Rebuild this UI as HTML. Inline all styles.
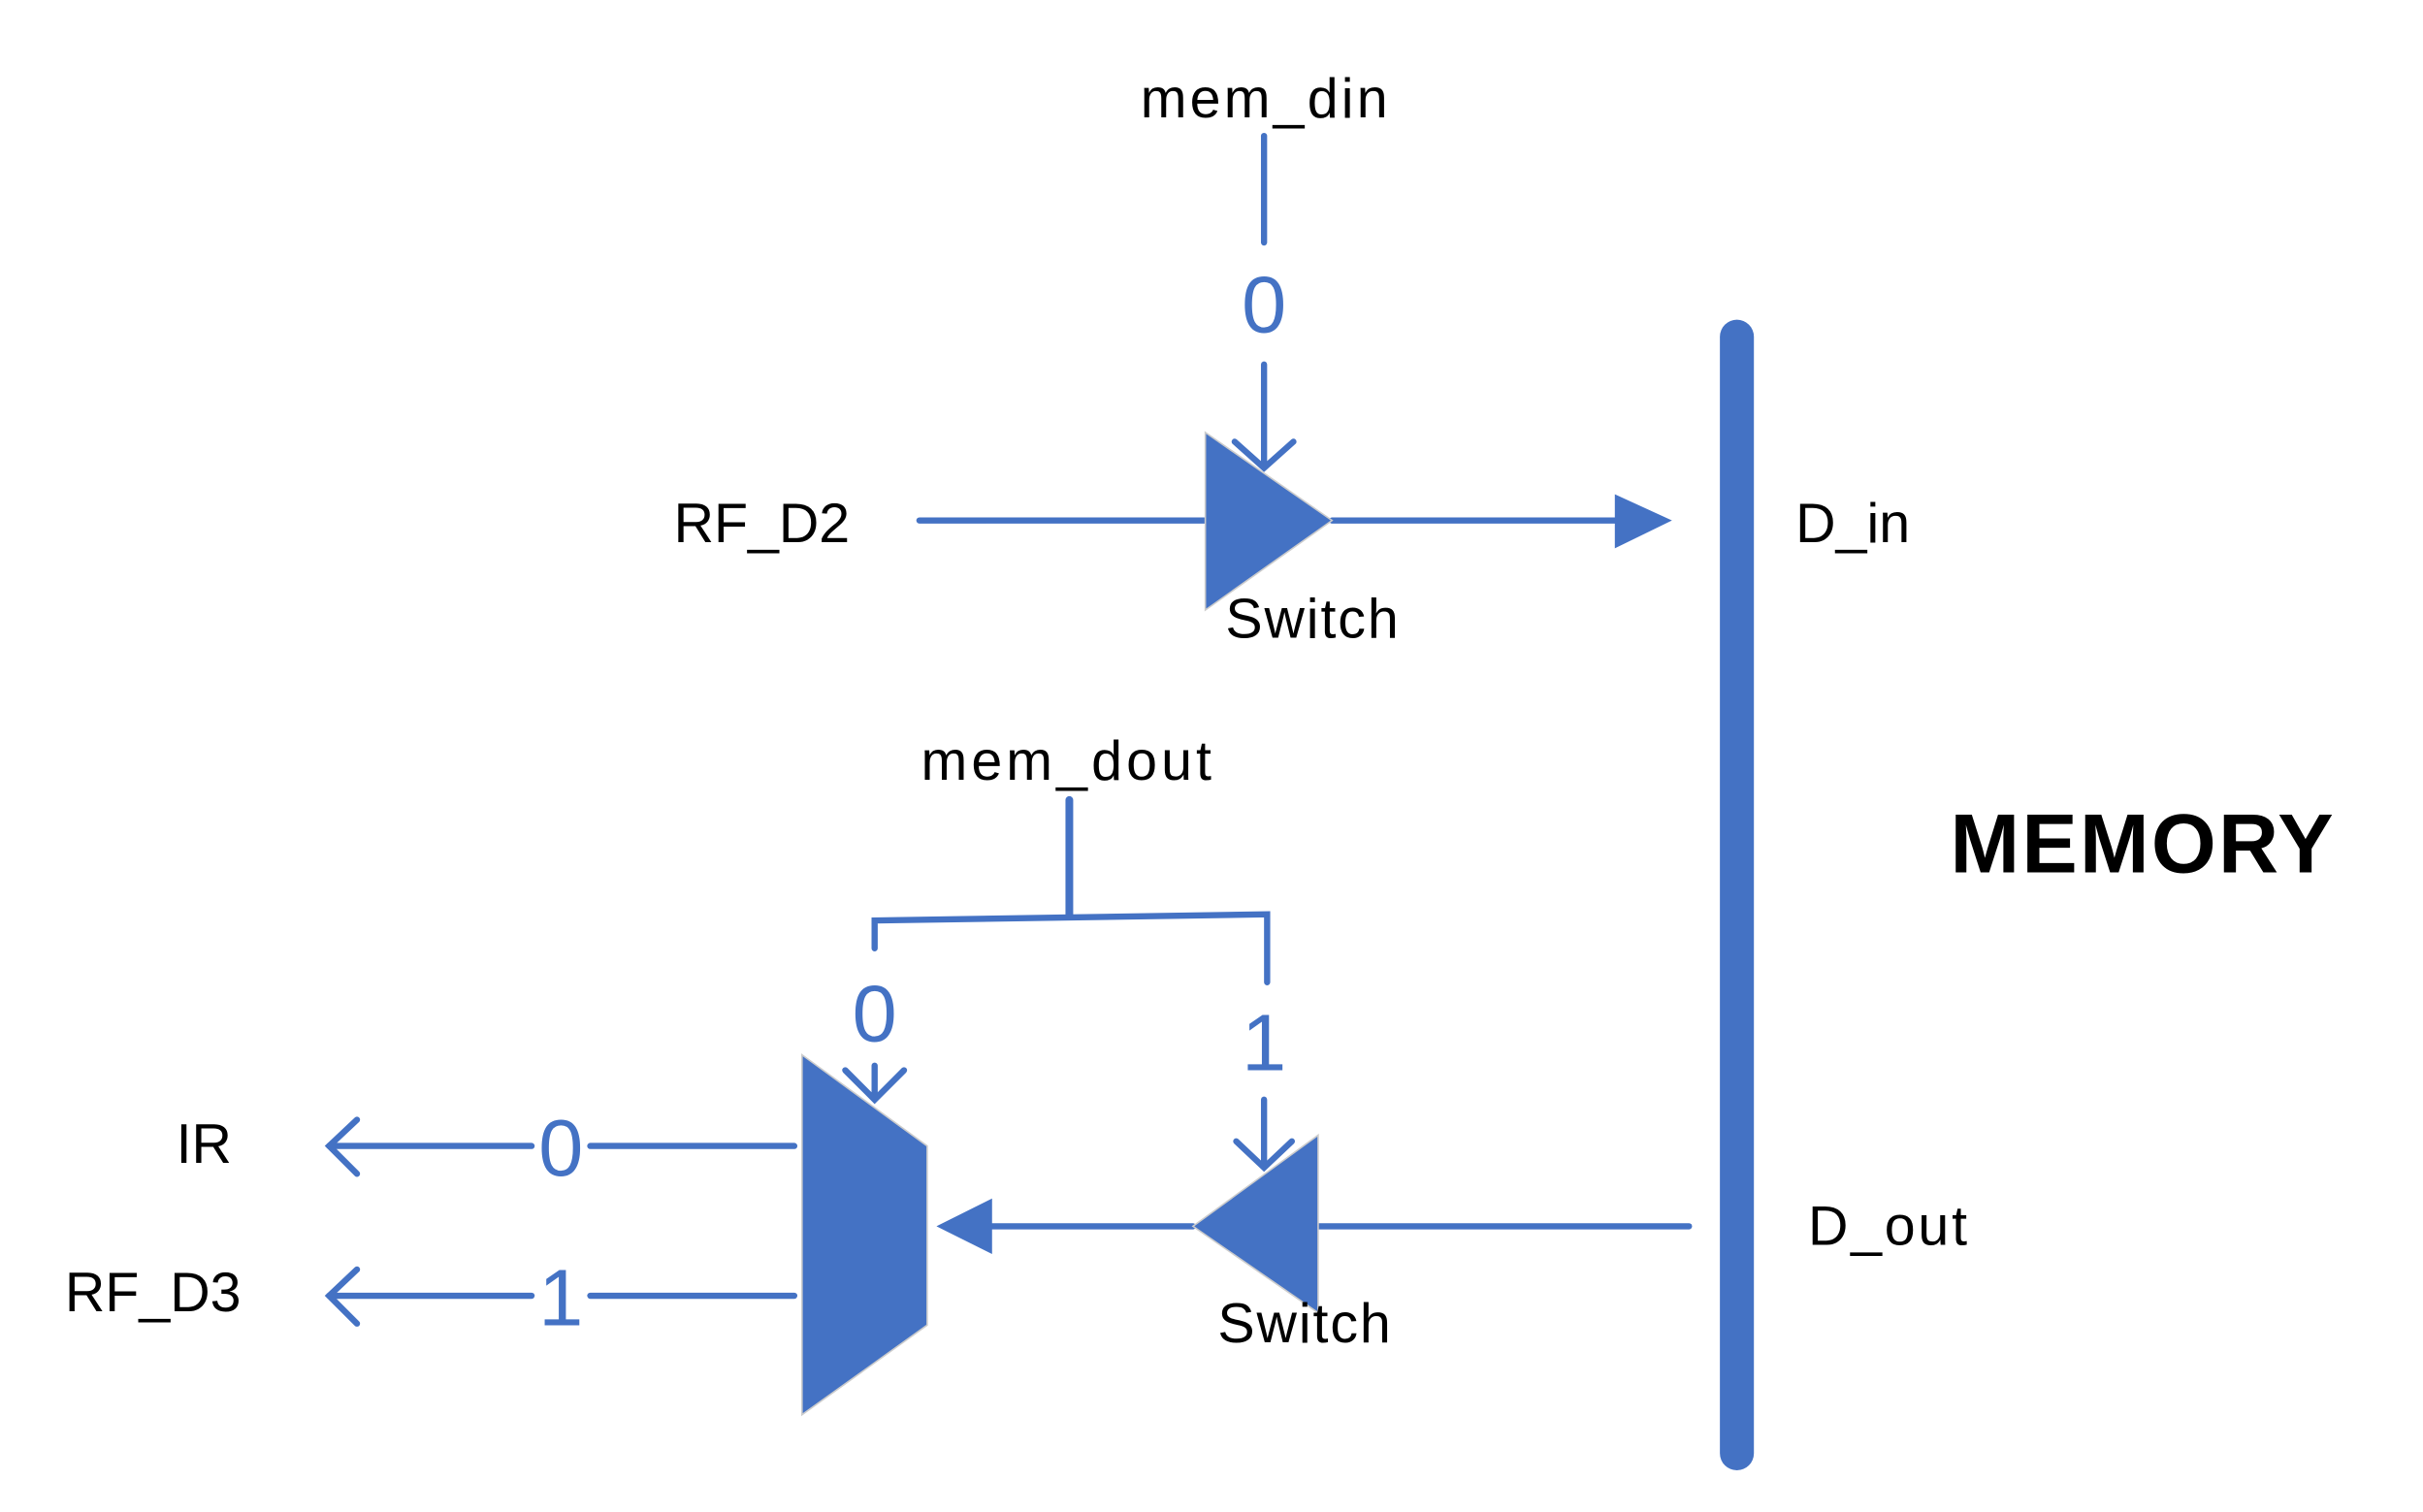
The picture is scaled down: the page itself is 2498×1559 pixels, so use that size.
<!DOCTYPE html>
<html><head><meta charset="utf-8"><style>
html,body{margin:0;padding:0;background:#fff;}
svg{display:block;}
text{font-family:"Liberation Sans",sans-serif;}
</style></head><body>
<svg width="2498" height="1559" viewBox="0 0 1568 979" preserveAspectRatio="none" xmlns="http://www.w3.org/2000/svg">
<g stroke="#4472C4" stroke-width="4" fill="none" stroke-linecap="round">
<line x1="818" y1="88" x2="818" y2="157"/>
<line x1="818" y1="236" x2="818" y2="302"/>
<polyline points="799,286 818,303 837,286"/>
<line x1="595" y1="337" x2="780" y2="337"/>
<line x1="862" y1="337" x2="1048" y2="337"/>
<line x1="692" y1="518" x2="692" y2="593" stroke-width="5"/>
<polyline points="566,614 566,596 820,592 820,636"/>
<line x1="566" y1="690" x2="566" y2="711"/>
<polyline points="547,693 566,712 585,693"/>
<line x1="818" y1="712" x2="818" y2="755"/>
<polyline points="800,739 818,756 836,739"/>
<line x1="213" y1="742" x2="344" y2="742"/>
<line x1="382" y1="742" x2="514" y2="742"/>
<polyline points="231,725 213,742 231,760"/>
<line x1="213" y1="839" x2="344" y2="839"/>
<line x1="382" y1="839" x2="514" y2="839"/>
<polyline points="231,822 213,839 231,857"/>
<line x1="640" y1="794" x2="772" y2="794"/>
<line x1="853" y1="794" x2="1093" y2="794"/>
<line x1="1124" y1="218" x2="1124" y2="941" stroke-width="22"/>
</g>
<g fill="#4472C4" stroke="#ccc" stroke-width="1">
<polygon points="780,280 862,337 780,395"/>
<polygon points="1045,320 1082,337 1045,355" stroke="none"/>
<polygon points="519,683 600,742 600,858 519,916"/>
<polygon points="606,794 642,776 642,812" stroke="none"/>
<polygon points="772,794 853,735 853,850"/>
</g>
<g font-size="36" fill="#000">
<text x="818" y="76" text-anchor="middle" textLength="160">mem_din</text>
<text x="550" y="351" text-anchor="end">RF_D2</text>
<text x="793" y="413" textLength="112">Switch</text>
<text x="1162" y="351">D_in</text>
<text x="690" y="505" text-anchor="middle" textLength="188">mem_dout</text>
<text x="150" y="753" text-anchor="end">IR</text>
<text x="156" y="849" text-anchor="end">RF_D3</text>
<text x="788" y="869" textLength="112">Switch</text>
<text x="1170" y="806" textLength="103">D_out</text>
<text x="1262" y="565" font-size="54" font-weight="bold" textLength="248">MEMORY</text>
</g>
<g font-size="52" fill="#4472C4" text-anchor="middle">
<text x="818" y="215">0</text>
<text x="566" y="674">0</text>
<text x="818" y="693">1</text>
<text x="363" y="761">0</text>
<text x="363" y="858">1</text>
</g>
</svg>
</body></html>
